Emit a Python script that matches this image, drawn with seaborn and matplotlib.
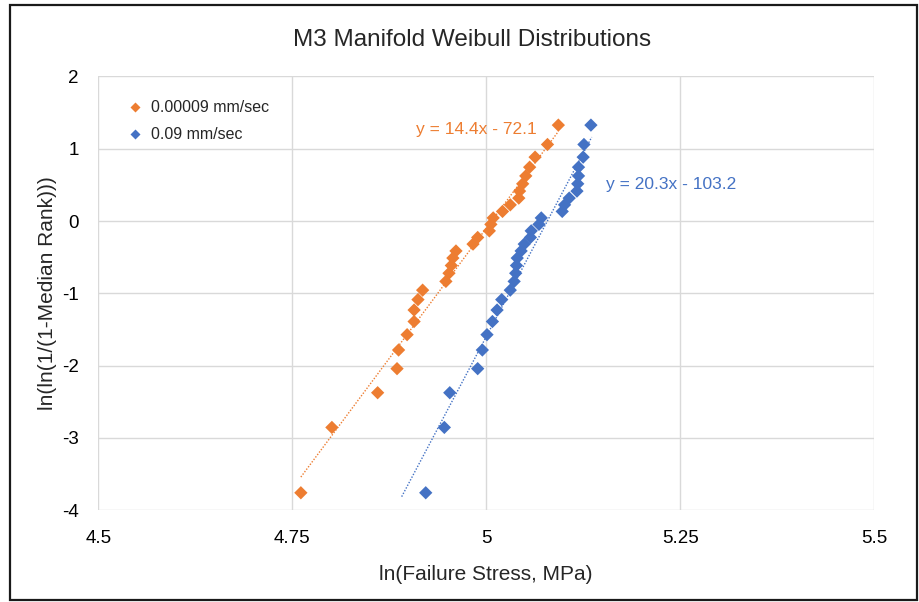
import numpy as np
import pandas as pd
import seaborn as sns
import matplotlib.pyplot as plt
from matplotlib.patches import Rectangle

# ---- data ----
median_rank_y = [-3.759, -2.855, -2.375, -2.042, -1.784, -1.572, -1.390, -1.231, -1.087, -0.956,
                 -0.835, -0.722, -0.615, -0.512, -0.414, -0.319, -0.227, -0.136, -0.046, 0.043,
                 0.133, 0.224, 0.317, 0.414, 0.515, 0.624, 0.745, 0.884, 1.059, 1.327]
slow_x = [4.761, 4.801, 4.860, 4.885, 4.887, 4.898, 4.907, 4.907, 4.912, 4.918,
          4.948, 4.952, 4.955, 4.957, 4.961, 4.983, 4.989, 5.004, 5.006, 5.009,
          5.021, 5.031, 5.042, 5.043, 5.047, 5.051, 5.056, 5.063, 5.079, 5.093]
fast_x = [4.922, 4.946, 4.953, 4.989, 4.995, 5.001, 5.008, 5.014, 5.020, 5.031,
          5.036, 5.038, 5.039, 5.040, 5.045, 5.049, 5.057, 5.058, 5.068, 5.071,
          5.098, 5.101, 5.107, 5.117, 5.118, 5.119, 5.119, 5.125, 5.126, 5.135]
series_names = ["0.00009 mm/sec", "0.09 mm/sec"]
fit_slope = [14.4, 20.3]
fit_intercept = [-72.1, -103.1]
fit_x_range = [(4.761, 5.093), (4.891, 5.136)]
fit_labels = ["y = 14.4x - 72.1", "y = 20.3x - 103.2"]
fit_label_pos = [(4.909, 1.26), (5.155, 0.50)]
x_ticks = [4.5, 4.75, 5, 5.25, 5.5]
x_tick_labels = ["4.5", "4.75", "5", "5.25", "5.5"]
y_ticks = [-4, -3, -2, -1, 0, 1, 2]

colors = ["#ED7D31", "#4472C4"]

df = pd.DataFrame({
    "x": slow_x + fast_x,
    "y": median_rank_y + median_rank_y,
    "series": [series_names[0]] * len(slow_x) + [series_names[1]] * len(fast_x),
})

sns.set_theme(style="white")
plt.rcParams["font.family"] = ["Liberation Sans", "DejaVu Sans"]
plt.rcParams["axes.unicode_minus"] = False

fig = plt.figure(figsize=(9.2, 6.02), dpi=100)
ax = fig.add_axes([0.107, 0.1525, 0.843, 0.7205])

sns.scatterplot(data=df, x="x", y="y", hue="series", palette=colors, marker="D",
                s=46, edgecolor="none", ax=ax, legend=True, zorder=3)

for i in range(2):
    xs = np.array(fit_x_range[i])
    ax.plot(xs, fit_slope[i] * xs + fit_intercept[i], linestyle=(0, (1, 1.2)),
            color=colors[i], linewidth=1.0, zorder=2)
    ax.text(fit_label_pos[i][0], fit_label_pos[i][1], fit_labels[i], color=colors[i],
            fontsize=12.5, va="center", ha="left")

ax.set_xlim(4.5, 5.5)
ax.set_ylim(-4, 2)
ax.set_xticks(x_ticks)
ax.set_xticklabels(x_tick_labels)
ax.set_yticks(y_ticks)
ax.grid(True, color="#d9d9d9", linewidth=1.0)
ax.set_axisbelow(True)
for sp in ax.spines.values():
    sp.set_visible(False)
ax.tick_params(axis="both", length=0, labelsize=13.5, colors="#000000")
ax.tick_params(axis="x", pad=14)
ax.tick_params(axis="y", pad=14)

ax.set_xlabel("ln(Failure Stress, MPa)", fontsize=15, labelpad=13)
ax.set_ylabel("ln(ln(1/(1-Median Rank)))", fontsize=15, labelpad=4)
fig.text(0.513, 0.933, "M3 Manifold Weibull Distributions", fontsize=17.5,
         ha="center", va="center")

leg = ax.legend(loc="upper left", bbox_to_anchor=(0.018, 0.96), frameon=False,
                fontsize=11.5, handletextpad=0.0, markerscale=0.7, labelspacing=0.75,
                borderaxespad=0)

# outer border
fig.patches.append(Rectangle((10 / 920, 2 / 602), 907 / 920, 595 / 602,
                             transform=fig.transFigure, fill=False,
                             edgecolor="#1a1a1a", linewidth=1.6))

fig.savefig("out.png", dpi=100)
